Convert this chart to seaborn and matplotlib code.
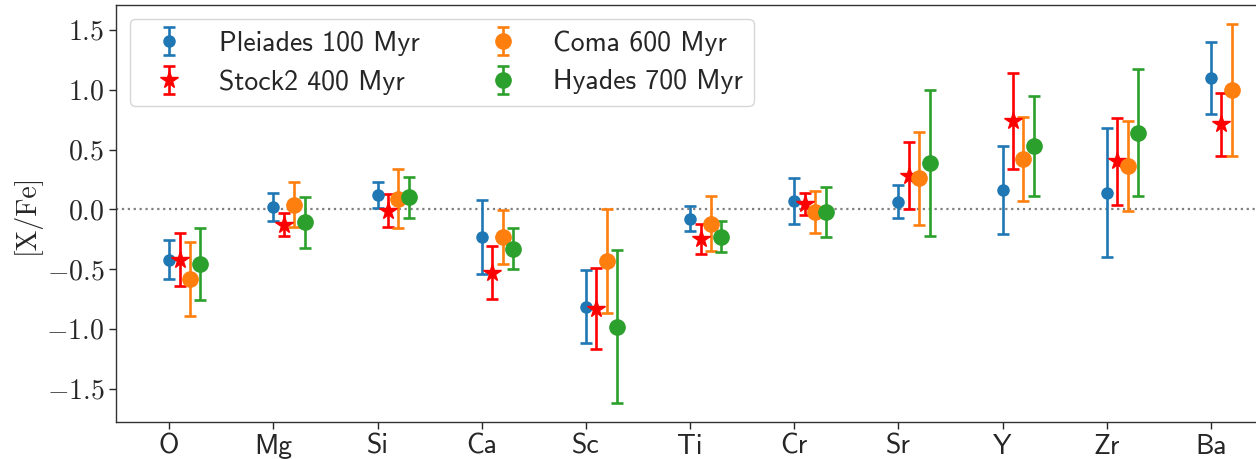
import numpy as np
import matplotlib
matplotlib.use("Agg")
import matplotlib.pyplot as plt
import seaborn as sns
from matplotlib.ticker import FixedLocator, FuncFormatter

# ---------------- data ----------------
elements = ["O", "Mg", "Si", "Ca", "Sc", "Ti", "Cr", "Sr", "Y", "Zr", "Ba"]

pleiades_val = [-0.42, 0.02, 0.12, -0.235, -0.815, -0.08, 0.07, 0.065, 0.16, 0.14, 1.10]
pleiades_err = [0.165, 0.12, 0.11, 0.31, 0.305, 0.105, 0.19, 0.14, 0.37, 0.54, 0.30]

stock2_val = [-0.42, -0.13, -0.01, -0.53, -0.83, -0.25, 0.045, 0.28, 0.74, 0.40, 0.71]
stock2_err = [0.22, 0.095, 0.137, 0.22, 0.34, 0.125, 0.094, 0.28, 0.40, 0.36, 0.26]

coma_val = [-0.58, 0.04, 0.09, -0.23, -0.43, -0.12, -0.02, 0.26, 0.42, 0.36, 1.00]
coma_err = [0.31, 0.19, 0.245, 0.225, 0.435, 0.23, 0.175, 0.39, 0.35, 0.375, 0.55]

hyades_val = [-0.46, -0.11, 0.10, -0.33, -0.98, -0.23, -0.02, 0.39, 0.53, 0.64, np.nan]
hyades_err = [0.30, 0.21, 0.17, 0.17, 0.64, 0.13, 0.21, 0.61, 0.42, 0.53, np.nan]

series_labels = ["Pleiades 100 Myr", "Stock2 400 Myr", "Coma 600 Myr", "Hyades 700 Myr"]
ytick_values = [-1.5, -1.0, -0.5, 0.0, 0.5, 1.0, 1.5]
ylabel = "[X/Fe]"

# ---------------- style ----------------
sns.set_theme(style="ticks")
plt.rcParams["font.family"] = ["cmss10", "DejaVu Sans"]
plt.rcParams["mathtext.fontset"] = "cm"
plt.rcParams["axes.unicode_minus"] = True
plt.rcParams["axes.edgecolor"] = "#333333"
plt.rcParams["axes.linewidth"] = 1.0

pal = sns.color_palette("tab10")
colors = [pal[0], (1.0, 0.0, 0.0), pal[1], pal[2]]
markers = ["o", "*", "o", "o"]
msizes = [8, 13, 11, 11]
offsets = [0.0, 0.1, 0.2, 0.3]

fs = 20

fig = plt.figure(figsize=(12.56, 4.59), dpi=100)
ax = fig.add_axes([116 / 1256, 1 - 422 / 459, 1169 / 1256, 417 / 459])

x = np.arange(len(elements))
ax.axhline(0.0, color="grey", linestyle=":", lw=1.6, zorder=0)

vals = [pleiades_val, stock2_val, coma_val, hyades_val]
errs = [pleiades_err, stock2_err, coma_err, hyades_err]
for v, e, lab, c, m, ms, off in zip(vals, errs, series_labels, colors, markers, msizes, offsets):
    ax.errorbar(x + off, v, yerr=e, fmt=m, color=c, ms=ms, capsize=4.5,
                elinewidth=1.9, capthick=1.9, label=lab)

ax.set_xticks(x)
ax.set_xticklabels(elements, fontsize=fs, fontfamily="cmss10")
ax.yaxis.set_major_locator(FixedLocator(ytick_values))
ax.yaxis.set_major_formatter(FuncFormatter(lambda v, p: r"$%.1f$" % v if abs(v) > 1e-9 else r"$0.0$"))
ax.tick_params(axis="both", labelsize=fs, length=5, width=1.0, direction="out")
ax.set_ylabel(ylabel, fontsize=fs, fontfamily="cmr10")

leg = ax.legend(loc="upper left", ncol=2, fontsize=fs, frameon=True, fancybox=True)
leg.get_frame().set_edgecolor("#cccccc")

fig.savefig("out.png", dpi=100)
